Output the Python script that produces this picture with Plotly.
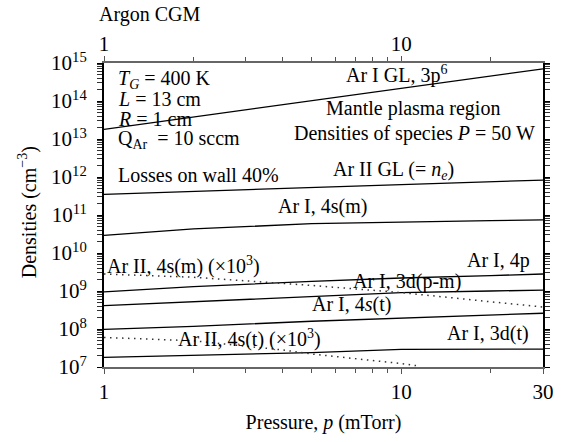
import numpy as np
import plotly.graph_objects as go

# ---------------- data ----------------
pressure = [1, 2, 5, 10, 20, 30]

ar1_gl = [1.8e13, 3.8e13, 1.0e14, 2.15e14, 4.5e14, 7.0e14]
ar2_gl = [3.5e11, 4.2e11, 5.4e11, 6.3e11, 7.6e11, 8.3e11]
ar1_4sm = [2.9e10, 4.3e10, 5.9e10, 6.6e10, 7.1e10, 7.4e10]
ar1_4p = [9.5e8, 1.3e9, 1.8e9, 2.2e9, 2.55e9, 2.8e9]
ar1_3dpm = [4.1e8, 5.2e8, 7.4e8, 9.1e8, 1.0e9, 1.05e9]
ar1_4st = [9.8e7, 1.17e8, 1.6e8, 1.95e8, 2.4e8, 2.6e8]
ar1_3dt = [1.8e7, 2.0e7, 2.4e7, 2.9e7, 2.95e7, 2.95e7]

ar2_4sm_x1e3 = [2.8e9, 2.3e9, 1.4e9, 9.1e8, 5.2e8, 3.8e8]

pressure_ar2_4st = [1, 2, 4, 5, 10, 11.6]
ar2_4st_x1e3 = [6.0e7, 4.9e7, 2.8e7, 2.2e7, 1.23e7, 1.05e7]

y_tickvals = [1e7, 1e8, 1e9, 1e10, 1e11, 1e12, 1e13, 1e14, 1e15]
y_ticktext = ["10<sup>%d</sup>" % k for k in range(7, 16)]
x_tickvals = [1, 10, 30]
x_ticktext = ["1", "10", "30"]
x2_tickvals = [1, 10]
x2_ticktext = ["1", "10"]
x_minor = [2, 3, 4, 5, 6, 7, 8, 9, 20]
y_minor = [m * 10 ** k for k in range(7, 15) for m in range(2, 10)]

# ---------------- figure ----------------
W, H = 566, 442
L, R, T, B = 104, 19, 63, 68
PW, PH = W - L - R, H - T - B
FONT = "Liberation Serif"


def paper(px, py):
    return (px - L) / PW, (H - B - py) / PH


fig = go.Figure()

solid = dict(color="black", width=1.3)
for ys in [ar1_gl, ar2_gl, ar1_4sm, ar1_4p, ar1_3dpm, ar1_4st, ar1_3dt]:
    fig.add_trace(go.Scatter(x=pressure, y=ys, mode="lines", line=solid,
                             showlegend=False, hoverinfo="skip"))

dotted = dict(color="#333", width=1.5, dash="1.5px,4.5px")
fig.add_trace(go.Scatter(x=pressure, y=ar2_4sm_x1e3, mode="lines", line=dotted,
                         showlegend=False, hoverinfo="skip"))
fig.add_trace(go.Scatter(x=pressure_ar2_4st, y=ar2_4st_x1e3, mode="lines", line=dotted,
                         showlegend=False, hoverinfo="skip"))

# invisible trace to activate top axis
fig.add_trace(go.Scatter(x=[1, 30], y=[1e7, 1e7], xaxis="x2", mode="lines",
                         line=dict(width=0), opacity=0, showlegend=False, hoverinfo="skip"))

labels = [
    ("<i>T<sub>G</sub></i> = 400 K", 116, 80, "left"),
    ("<i>L</i> = 13 cm", 116, 100, "left"),
    ("<i>R</i> = 1 cm", 116, 120, "left"),
    ("Q<sub>Ar</sub>  = 10 sccm", 116, 141, "left"),
    ("Losses on wall 40%", 116, 178, "left"),
    ("Ar I GL, 3p<sup>6</sup>", 399, 75, "center"),
    ("Mantle plasma region", 416, 110, "center"),
    ("Densities of species <i>P</i> = 50 W", 417, 135, "center"),
    ("Ar II GL (= <i>n<sub>e</sub></i>)", 396, 173, "center"),
    ("Ar I, 4s(m)", 324, 210, "center"),
    ("Ar II, 4s(m) (×10<sup>3</sup>)", 105, 270, "left"),
    ("Ar I, 4p", 502, 265, "center"),
    ("Ar I, 3d(p-m)", 410, 287, "center"),
    ("Ar I, 4<i>s</i>(t)", 354, 310, "center"),
    ("Ar II, 4s(t) (×10<sup>3</sup>)", 251, 345, "center"),
    ("Ar I, 3d(t)", 492, 340, "center"),
]
for text, px, py, anchor in labels:
    xp, yp = paper(px, py)
    fig.add_annotation(text=text, x=xp, y=yp, xref="paper", yref="paper",
                       xanchor=anchor, yanchor="middle", showarrow=False,
                       font=dict(family=FONT, size=20, color="black"))

xp, yp = paper(97, 13)
fig.add_annotation(text="Argon CGM", x=xp, y=yp, xref="paper", yref="paper",
                   xanchor="left", yanchor="middle", showarrow=False,
                   font=dict(family=FONT, size=20, color="black"))

# y-axis title as rotated annotation
xp, yp = paper(27, 216)
fig.add_annotation(text="Densities (cm<sup>−3</sup>)", x=xp, y=yp, xref="paper", yref="paper",
                   xanchor="center", yanchor="middle", textangle=-90, showarrow=False,
                   font=dict(family=FONT, size=20, color="black"))

xrange = [0, np.log10(30)]
tickfont = dict(family=FONT, size=21, color="black")
fig.update_layout(
    width=W, height=H,
    margin=dict(l=L, r=R, t=T, b=B, pad=0),
    paper_bgcolor="white", plot_bgcolor="white",
    font=dict(family=FONT, size=20, color="black"),
    xaxis=dict(type="log", range=xrange, showgrid=False, zeroline=False,
               showline=True, linecolor="#666", linewidth=2,
               ticks="outside", ticklen=5, tickwidth=1.2, tickcolor="#555",
               tickvals=x_tickvals, ticktext=x_ticktext, tickfont=tickfont,
               minor=dict(tickvals=x_minor, ticks="outside", ticklen=4, tickcolor="#555", tickwidth=1),
               title=dict(text="Pressure, <i>p</i> (mTorr)", standoff=12,
                          font=dict(family=FONT, size=20))),
    xaxis2=dict(type="log", range=xrange, overlaying="x", side="top", anchor="y",
                showgrid=False, zeroline=False,
                showline=True, linecolor="#666", linewidth=2,
                ticks="outside", ticklen=5, tickwidth=1.2, tickcolor="#555",
                tickvals=x2_tickvals, ticktext=x2_ticktext, tickfont=tickfont,
                ticklabelstandoff=-3,
                minor=dict(tickvals=x_minor, ticks="outside", ticklen=4, tickcolor="#555", tickwidth=1)),
    yaxis=dict(type="log", range=[7, 15], showgrid=False, zeroline=False,
               showline=True, linecolor="black", linewidth=2, mirror="allticks",
               ticks="outside", ticklen=5, tickwidth=1.2, tickcolor="black",
               tickvals=y_tickvals, ticktext=y_ticktext, tickfont=tickfont,
               ticklabelstandoff=6,
               minor=dict(tickvals=y_minor, ticks="outside", ticklen=3, tickcolor="#333", tickwidth=1)),
)

fig.write_html("out.html", config={"displayModeBar": False},
               post_script="document.body.style.margin='0';")
